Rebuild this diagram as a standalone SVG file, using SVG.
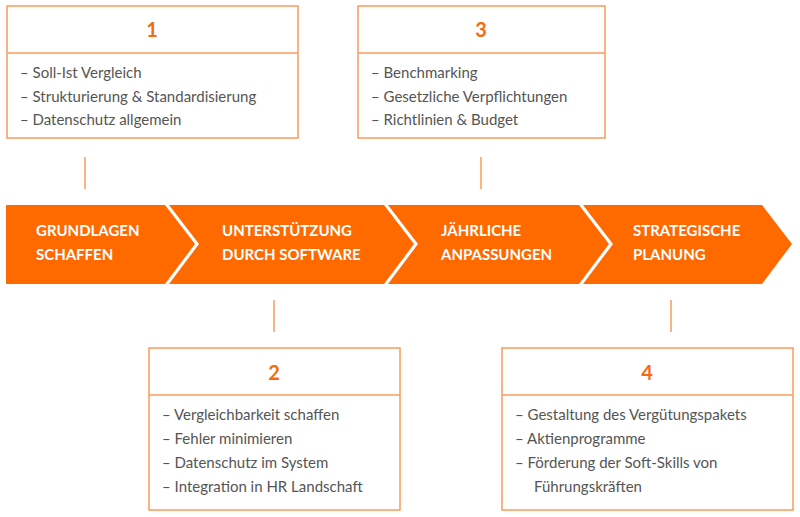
<svg xmlns="http://www.w3.org/2000/svg" width="800" height="517" viewBox="0 0 800 517">
<style>
.box{fill:#fff;stroke:#fb9b5b;stroke-width:1.5}
.num{font-family:Lato,"Open Sans",sans-serif;font-weight:bold;font-size:20px;fill:#f76b0f;text-anchor:middle}
.item{font-family:Lato,"Open Sans",sans-serif;font-size:15px;fill:#555}
.lbl{font-family:Lato,"Open Sans",sans-serif;font-weight:bold;font-size:15px;fill:#fff}
.seg{fill:#ff6a00}
.con{stroke:#fb9b5b;stroke-width:1.5}
</style>
<rect width="800" height="517" fill="#fff"/>
<g id="band">
<polygon class="seg" points="6,205 165,205 195,244 165,284 6,284"/>
<polygon class="seg" points="169,205 384,205 414,244 384,284 169,284 199,244"/>
<polygon class="seg" points="388,205 579,205 609,244 579,284 388,284 418,244"/>
<polygon class="seg" points="583,205 762,205 792,244 762,284 583,284 613,244"/>
<text class="lbl" x="36" y="236">GRUNDLAGEN</text><text class="lbl" x="36" y="260">SCHAFFEN</text>
<text class="lbl" x="222" y="236">UNTERSTÜTZUNG</text><text class="lbl" x="222" y="260">DURCH SOFTWARE</text>
<text class="lbl" x="441" y="236">JÄHRLICHE</text><text class="lbl" x="441" y="260">ANPASSUNGEN</text>
<text class="lbl" x="633" y="236">STRATEGISCHE</text><text class="lbl" x="633" y="260">PLANUNG</text>
</g>
<g id="connectors">
<line class="con" x1="85" y1="157" x2="85" y2="189"/>
<line class="con" x1="481" y1="157" x2="481" y2="189"/>
<line class="con" x1="274" y1="300" x2="274" y2="332"/>
<line class="con" x1="671" y1="300" x2="671" y2="332"/>
</g>
<g id="box1">
<rect class="box" x="7" y="6" width="291" height="132"/><line class="box" x1="7" y1="53" x2="298" y2="53"/>
<text class="num" x="152" y="37">1</text>
<text class="item" x="20" y="78">–   Soll-Ist Vergleich</text>
<text class="item" x="20" y="102">–   Strukturierung &amp; Standardisierung</text>
<text class="item" x="20" y="125">–   Datenschutz allgemein</text>
</g>
<g id="box3">
<rect class="box" x="358" y="6" width="247" height="132"/><line class="box" x1="358" y1="53" x2="605" y2="53"/>
<text class="num" x="481" y="37">3</text>
<text class="item" x="371" y="78">–   Benchmarking</text>
<text class="item" x="371" y="102">–   Gesetzliche Verpflichtungen</text>
<text class="item" x="371" y="125">–   Richtlinien &amp; Budget</text>
</g>
<g id="box2">
<rect class="box" x="149" y="348" width="251" height="162"/><line class="box" x1="149" y1="395" x2="400" y2="395"/>
<text class="num" x="274" y="380">2</text>
<text class="item" x="162" y="420">–   Vergleichbarkeit schaffen</text>
<text class="item" x="162" y="444">–   Fehler minimieren</text>
<text class="item" x="162" y="468">–   Datenschutz im System</text>
<text class="item" x="162" y="492">–   Integration in HR Landschaft</text>
</g>
<g id="box4">
<rect class="box" x="502" y="348" width="291" height="162"/><line class="box" x1="502" y1="395" x2="793" y2="395"/>
<text class="num" x="647" y="380">4</text>
<text class="item" x="515" y="420">–   Gestaltung des Vergütungspakets</text>
<text class="item" x="515" y="444">–   Aktienprogramme</text>
<text class="item" x="515" y="468">–   Förderung der Soft-Skills von</text>
<text class="item" x="534" y="492">Führungskräften</text>
</g>
</svg>
